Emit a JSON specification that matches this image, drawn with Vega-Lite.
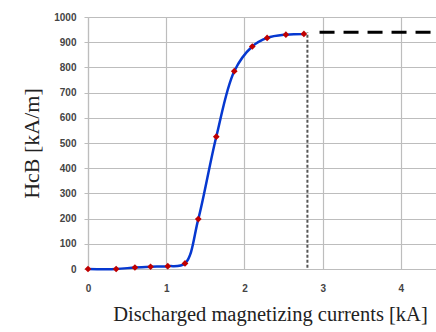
{
  "$schema": "https://vega.github.io/schema/vega-lite/v6.json",
  "autosize": {"type": "none"},
  "padding": {"left": 88, "top": 17, "right": 0, "bottom": 63},
  "width": 352,
  "height": 252,
  "background": "white",
  "config": {"view": {"stroke": null}},
  "datasets": {
    "curve": [
      {"I": 0, "H": 0}, {"I": 0.36, "H": 0}, {"I": 0.6, "H": 6}, {"I": 0.8, "H": 9},
      {"I": 1.02, "H": 11}, {"I": 1.24, "H": 22}, {"I": 1.41, "H": 198},
      {"I": 1.64, "H": 525}, {"I": 1.87, "H": 785}, {"I": 2.1, "H": 883},
      {"I": 2.29, "H": 917}, {"I": 2.53, "H": 930}, {"I": 2.76, "H": 933}
    ],
    "vline": [{"I": 2.805, "H": 5}, {"I": 2.805, "H": 939}],
    "hline": [{"I": 2.96, "H": 939}, {"I": 4.5, "H": 939}]
  },
  "encoding": {
    "x": {"field": "I", "type": "quantitative", "scale": {"domain": [0, 4.5], "nice": false},
      "axis": {"values": [0, 1, 2, 3, 4], "format": "d", "labelOverlap": false, "labelFlush": false, "title": "Discharged magnetizing currents [kA]", "titleFont": "Liberation Serif", "titleFontSize": 20.5, "titleFontWeight": "normal", "titleColor": "#222", "titlePadding": 11, "titleX": 182, "labelFont": "Liberation Sans", "labelFontSize": 10, "labelFontWeight": "bold", "labelColor": "#444", "labelPadding": 14, "ticks": false, "domain": false, "gridColor": "#bdbdbd", "gridWidth": 1.2}},
    "y": {"field": "H", "type": "quantitative", "scale": {"domain": [0, 1000], "nice": false},
      "axis": {"values": [0, 100, 200, 300, 400, 500, 600, 700, 800, 900, 1000], "tickCount": 11, "format": "d", "labelOverlap": false, "labelFlush": false, "title": "HcB [kA/m]", "titleFont": "Liberation Serif", "titleFontSize": 22, "titleFontWeight": "normal", "titleColor": "#222", "titlePadding": 10, "labelFont": "Liberation Sans", "labelFontSize": 10, "labelFontWeight": "bold", "labelColor": "#444", "labelPadding": 8, "ticks": true, "tickSize": 4, "tickColor": "#bdbdbd", "domain": true, "domainColor": "#bdbdbd", "domainWidth": 1.2, "gridColor": "#bdbdbd", "gridWidth": 1.2}}
  },
  "layer": [
    {
      "data": {"name": "vline"},
      "mark": {"type": "line", "color": "#555555", "strokeWidth": 2, "strokeDash": [3, 2]}
    },
    {
      "data": {"name": "hline"},
      "mark": {"type": "line", "color": "#000000", "strokeWidth": 3, "strokeDash": [15, 9], "clip": true}
    },
    {
      "data": {"name": "curve"},
      "mark": {"type": "line", "color": "#0638d0", "strokeWidth": 2.5, "interpolate": "catmull-rom"}
    },
    {
      "data": {"name": "curve"},
      "mark": {"type": "point", "shape": "diamond", "filled": true, "color": "#c00000", "size": 45, "opacity": 1}
    }
  ]
}
